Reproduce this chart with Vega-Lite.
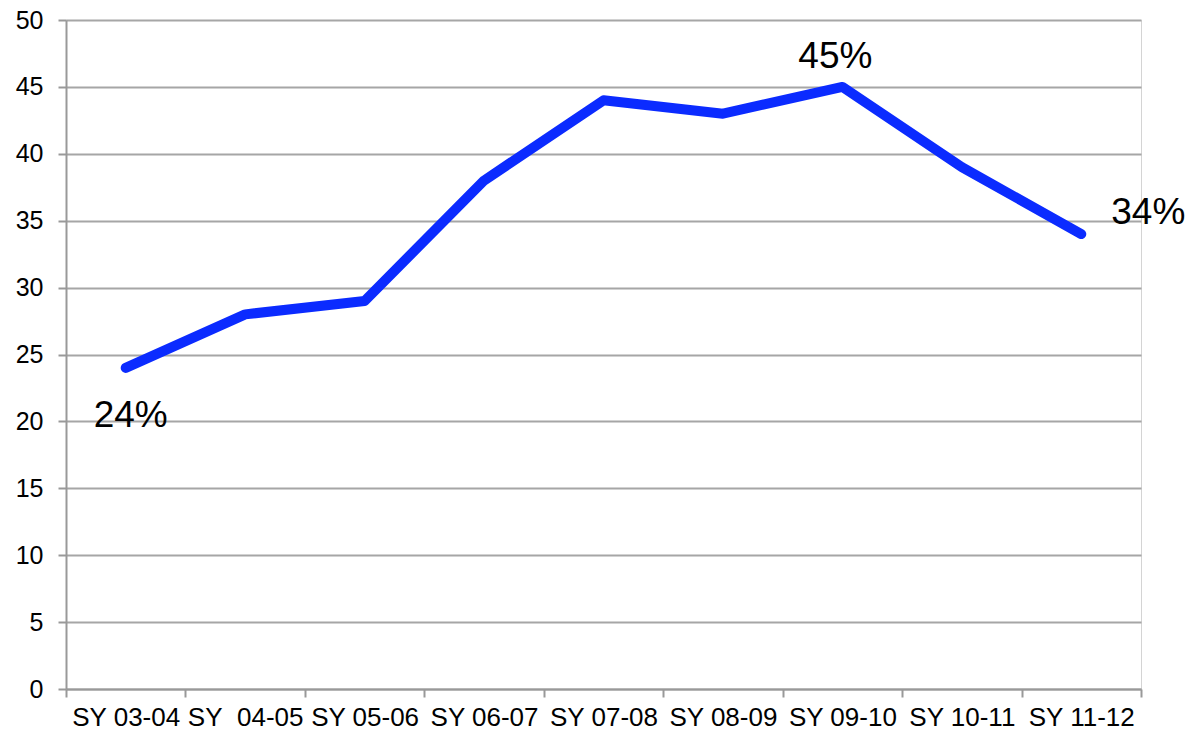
{
  "$schema": "https://vega.github.io/schema/vega-lite/v6.json",
  "width": 1075,
  "height": 669,
  "autosize": {"type": "none"},
  "padding": {"left": 66, "top": 20, "right": 48, "bottom": 46},
  "background": "white",
  "config": {
    "font": "Liberation Sans",
    "view": {"stroke": "#d4d4d4", "strokeWidth": 1}
  },
  "data": {
    "values": [
      {"year": "SY 03-04", "value": 24, "label": "24%"},
      {"year": "SY\u00a0 04-05", "value": 28, "label": ""},
      {"year": "SY 05-06", "value": 29, "label": ""},
      {"year": "SY 06-07", "value": 38, "label": ""},
      {"year": "SY 07-08", "value": 44, "label": ""},
      {"year": "SY 08-09", "value": 43, "label": ""},
      {"year": "SY 09-10", "value": 45, "label": "45%"},
      {"year": "SY 10-11", "value": 39, "label": ""},
      {"year": "SY 11-12", "value": 34, "label": "34%"}
    ]
  },
  "encoding": {
    "x": {
      "field": "year",
      "type": "ordinal",
      "sort": null,
      "bandPosition": 0.5,
      "scale": {"type": "band", "paddingInner": 0, "paddingOuter": 0},
      "axis": {
        "title": null,
        "labelAngle": 0,
        "labelFontSize": 26,
        "labelColor": "#000000",
        "labelPadding": 7,
        "labelOverlap": false,
        "tickBand": "extent",
        "tickSize": 8,
        "tickColor": "#999999",
        "tickWidth": 2,
        "domainColor": "#999999",
        "domainWidth": 2,
        "grid": false
      }
    },
    "y": {
      "field": "value",
      "type": "quantitative",
      "scale": {"domain": [0, 50], "nice": false},
      "axis": {
        "title": null,
        "values": [0, 5, 10, 15, 20, 25, 30, 35, 40, 45, 50],
        "labelFontSize": 25,
        "labelColor": "#000000",
        "labelPadding": 15,
        "tickSize": 8,
        "tickColor": "#999999",
        "tickWidth": 2,
        "domainColor": "#999999",
        "domainWidth": 2,
        "grid": true,
        "gridColor": "#a6a6a6",
        "gridWidth": 2
      }
    }
  },
  "layer": [
    {
      "mark": {"type": "line", "color": "#0b2bff", "strokeWidth": 10, "strokeJoin": "round", "strokeCap": "round"}
    },
    {
      "transform": [{"filter": "datum.year === 'SY 03-04'"}],
      "mark": {"type": "text", "fontSize": 37, "color": "#000000", "dx": 5, "dy": 48, "align": "center", "baseline": "middle"},
      "encoding": {"text": {"field": "label"}}
    },
    {
      "transform": [{"filter": "datum.year === 'SY 09-10'"}],
      "mark": {"type": "text", "fontSize": 37, "color": "#000000", "dx": -7, "dy": -30, "align": "center", "baseline": "middle"},
      "encoding": {"text": {"field": "label"}}
    },
    {
      "transform": [{"filter": "datum.year === 'SY 11-12'"}],
      "mark": {"type": "text", "fontSize": 37, "color": "#000000", "dx": 30, "dy": -21, "align": "left", "baseline": "middle"},
      "encoding": {"text": {"field": "label"}}
    }
  ]
}
